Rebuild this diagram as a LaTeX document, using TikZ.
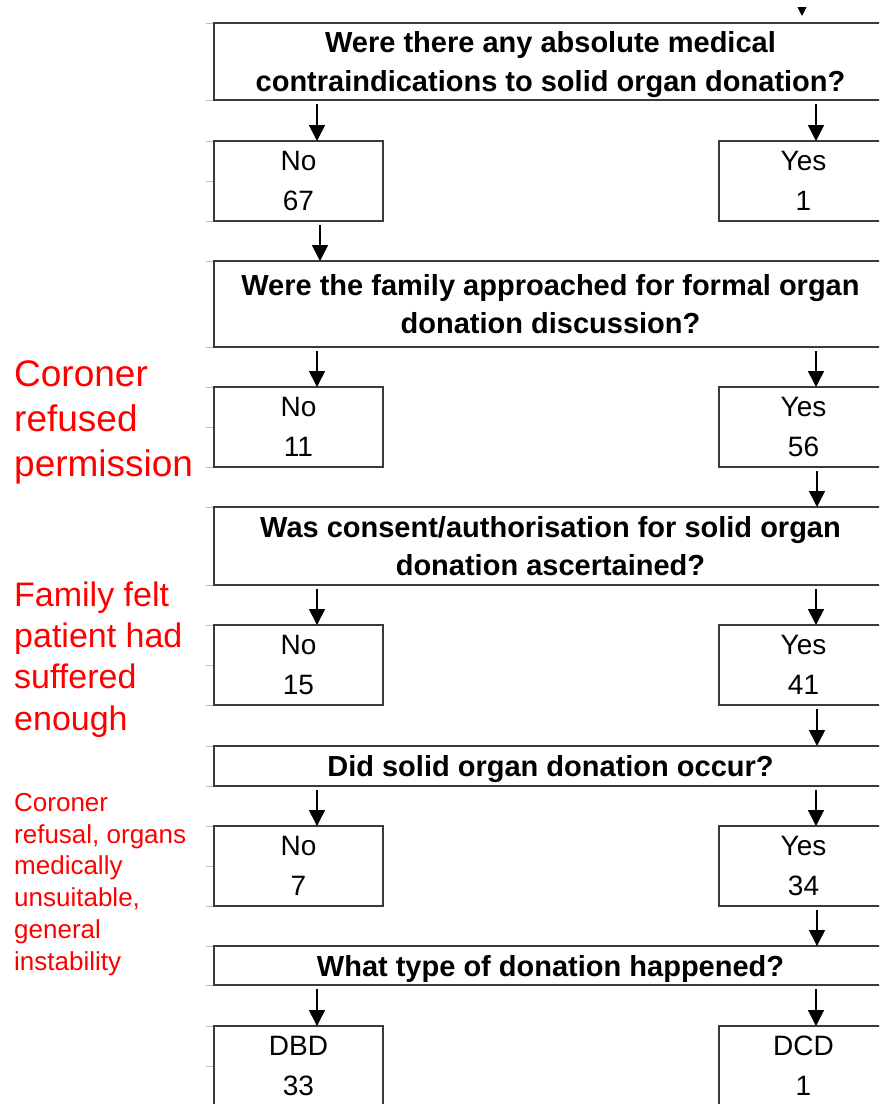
\documentclass[tikz,border=0pt]{standalone}
\usepackage{fontspec}
\setmainfont{Liberation Sans}
\usetikzlibrary{arrows.meta}
\definecolor{boxline}{HTML}{3A3A3A}
\definecolor{gridtick}{HTML}{BDBDBD}
\definecolor{notered}{HTML}{FF0000}
\begin{document}
\begin{tikzpicture}[x=1pt,y=-1pt,
  box/.style={draw=boxline, line width=1.8pt, fill=white, inner sep=0pt, outer sep=0pt, align=center},
  qbox/.style={box, minimum width=673pt, text depth=0pt, font=\fontsize{29}{38.5}\selectfont\bfseries},
  abox/.style={box, minimum width=169pt, minimum height=80pt, font=\fontsize{28}{40}\selectfont},
  arr/.style={line width=1.6pt, -{Triangle[width=16pt,length=16pt]}},
  gtick/.style={draw=gridtick, line width=1pt},
  note/.style={text=notered, align=left, anchor=base west, inner sep=0pt}
]
\useasboundingbox (0,0) rectangle (879,1104);
\clip (0,0) rectangle (879,1104);

% spreadsheet grid ticks
\foreach \y in {23,100,141,181,221,261,347,387,427,467,507,585,625,665,705,746,786,826,866,906,946,985,1026,1066}
  \draw[gtick] (206,\y) -- (214,\y);

% boxes
\node[qbox, minimum height=77pt] (q1) at (550.5,61.5) {Were there any absolute medical\\contraindications to solid organ donation?};
\node[abox] (n1) at (298.5,181) {No\\67};
\node[abox] (y1) at (803.5,181) {Yes\\1};
\node[qbox, minimum height=86pt] (q2) at (550.5,304) {Were the family approached for formal organ\\donation discussion?};
\node[abox] (n2) at (298.5,427) {No\\11};
\node[abox] (y2) at (803.5,427) {Yes\\56};
\node[qbox, minimum height=78pt] (q3) at (550.5,546) {Was consent/authorisation for solid organ\\donation ascertained?};
\node[abox] (n3) at (298.5,665) {No\\15};
\node[abox] (y3) at (803.5,665) {Yes\\41};
\node[qbox, minimum height=40pt] (q4) at (550.5,766) {Did solid organ donation occur?};
\node[abox] (n4) at (298.5,866) {No\\7};
\node[abox] (y4) at (803.5,866) {Yes\\34};
\node[qbox, minimum height=39pt] (q5) at (550.5,965.5) {What type of donation happened?};
\node[abox] (n5) at (298.5,1066) {DBD\\33};
\node[abox] (y5) at (803.5,1066) {DCD\\1};

% arrow columns
\coordinate (xl) at (317,0);
\coordinate (xl2) at (320,0);
\coordinate (xr) at (816,0);
\coordinate (xr2) at (817,0);
\coordinate (topin) at (802,-30);

\begin{scope}
  \clip (700,7) rectangle (900,30);
  \draw[arr, shorten >=7pt] (topin) -- (q1.north -| topin);
\end{scope}
\draw[arr, shorten <=4pt] (q1.south -| xl) -- (n1.north -| xl);
\draw[arr, shorten <=4pt] (q1.south -| xr) -- (y1.north -| xr);
\draw[arr, shorten <=4pt] (n1.south -| xl2) -- (q2.north -| xl2);
\draw[arr, shorten <=4pt] (q2.south -| xl) -- (n2.north -| xl);
\draw[arr, shorten <=4pt] (q2.south -| xr) -- (y2.north -| xr);
\draw[arr, shorten <=4pt] (y2.south -| xr2) -- (q3.north -| xr2);
\draw[arr, shorten <=4pt] (q3.south -| xl) -- (n3.north -| xl);
\draw[arr, shorten <=4pt] (q3.south -| xr) -- (y3.north -| xr);
\draw[arr, shorten <=4pt] (y3.south -| xr2) -- (q4.north -| xr2);
\draw[arr, shorten <=4pt] (q4.south -| xl) -- (n4.north -| xl);
\draw[arr, shorten <=4pt] (q4.south -| xr) -- (y4.north -| xr);
\draw[arr, shorten <=4pt] (y4.south -| xr2) -- (q5.north -| xr2);
\draw[arr, shorten <=4pt] (q5.south -| xl) -- (n5.north -| xl);
\draw[arr, shorten <=4pt] (q5.south -| xr) -- (y5.north -| xr);

% red notes (anchored at the baseline of the last line)
\node[note, font=\fontsize{37}{45}\selectfont] (r1) at (14,476.7) {Coroner\\refused\\permission};
\node[note, font=\fontsize{34}{41.3}\selectfont] (r2) at (14,730) {Family felt\\patient had\\suffered\\enough};
\node[note, font=\fontsize{26}{31.7}\selectfont] (r3) at (14,970) {Coroner\\refusal, organs\\medically\\unsuitable,\\general\\instability};
\end{tikzpicture}
\end{document}
